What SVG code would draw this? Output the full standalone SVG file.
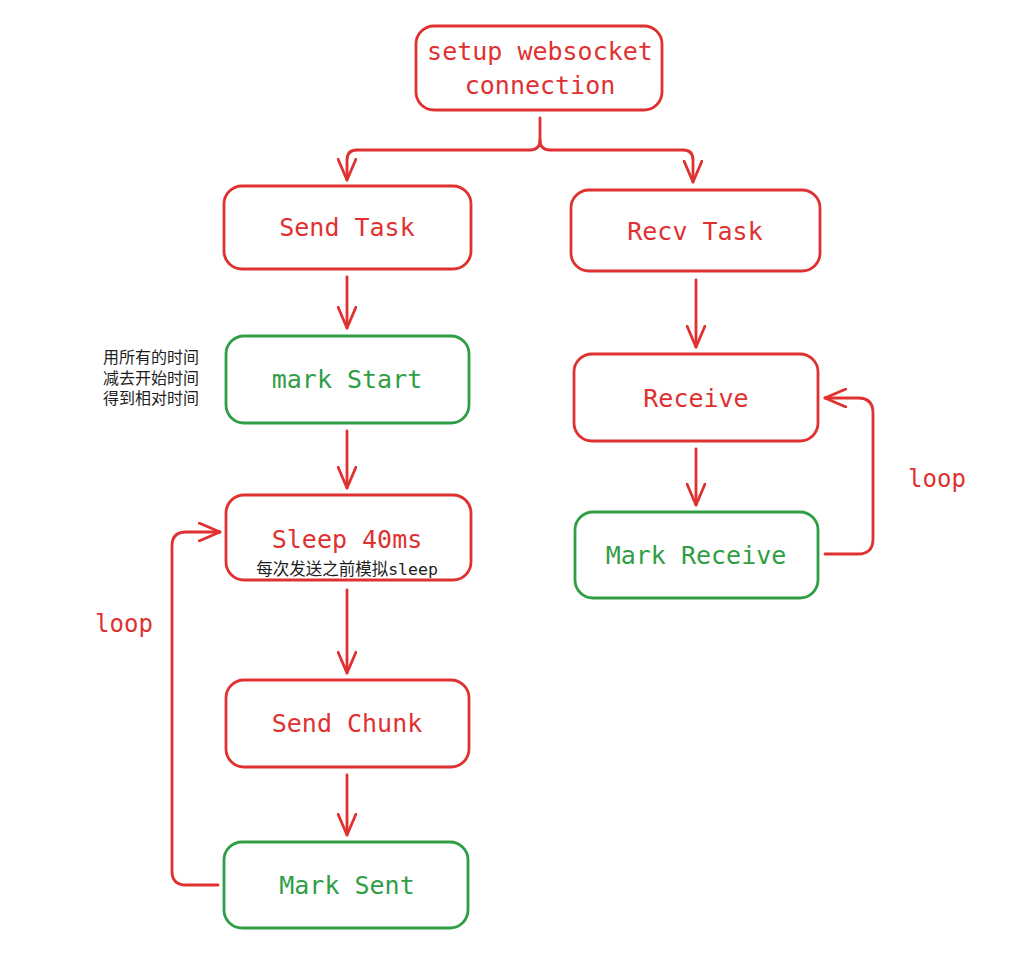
<svg xmlns="http://www.w3.org/2000/svg" width="1016" height="977" viewBox="0 0 1016 977">
<style>
.box{fill:#fff;stroke-width:2.8;stroke-linejoin:round}
.r{stroke:#e03131}
.g{stroke:#2f9e44}
.lbl{font-family:"DejaVu Sans Mono","Liberation Mono",monospace;font-size:25px;text-anchor:middle;dominant-baseline:central}
.tr{fill:#e03131}
.tg{fill:#2f9e44}
.note{font-family:"Liberation Sans","Noto Sans CJK SC",sans-serif;font-size:16px;fill:#1e1e1e;dominant-baseline:central}
.conn path{fill:none;stroke:#e03131;stroke-width:2.8;stroke-linecap:round;stroke-linejoin:round}
</style>
<defs>
<marker id="ah" viewBox="0 0 24 20" refX="22" refY="10" markerWidth="24" markerHeight="20" markerUnits="userSpaceOnUse" orient="auto">
<path d="M1,1 L22,10 L1,19" fill="none" stroke="#e03131" stroke-width="2.8" stroke-linecap="round" stroke-linejoin="round"/>
</marker>
</defs>
<rect width="1016" height="977" fill="#fff"/>
<g class="conn">
<path d="M540,118 L540,140 Q540,150 530,150 L357,150 Q347,150 347,160 L347,180" marker-end="url(#ah)"/>
<path d="M540,140 Q540,150 550,150 L683,150 Q693,150 693,160 L693,182" marker-end="url(#ah)"/>
<path d="M347,277 L347,328" marker-end="url(#ah)"/>
<path d="M347,431 L347,488" marker-end="url(#ah)"/>
<path d="M347,590 L347,673" marker-end="url(#ah)"/>
<path d="M347,775 L347,835" marker-end="url(#ah)"/>
<path d="M218,885 L186,885 Q172,885 172,871 L172,546 Q172,532 186,532 L220,532" marker-end="url(#ah)"/>
<path d="M696,280 L696,347" marker-end="url(#ah)"/>
<path d="M696,449 L696,505" marker-end="url(#ah)"/>
<path d="M825,554 L858,554 Q873,554 873,539 L873,413 Q873,398 858,398 L825,398" marker-end="url(#ah)"/>
</g>
<g id="setup">
<rect class="box r" x="416" y="26" width="246" height="84" rx="18"/>
<text class="lbl tr" x="540" y="51">setup websocket</text>
<text class="lbl tr" x="540" y="85">connection</text>
</g>
<g id="sendTask">
<rect class="box r" x="224" y="186" width="247" height="83" rx="18"/>
<text class="lbl tr" x="347" y="227">Send Task</text>
</g>
<g id="recvTask">
<rect class="box r" x="571" y="190" width="249" height="81" rx="18"/>
<text class="lbl tr" x="695" y="231">Recv Task</text>
</g>
<g id="markStart">
<rect class="box g" x="226" y="336" width="243" height="87" rx="18"/>
<text class="lbl tg" x="347" y="379">mark Start</text>
</g>
<g id="note1">
<text class="note" x="103" y="357">用所有的时间</text>
<text class="note" x="103" y="378">减去开始时间</text>
<text class="note" x="103" y="398">得到相对时间</text>
</g>
<g id="receive">
<rect class="box r" x="574" y="354" width="244" height="87" rx="18"/>
<text class="lbl tr" x="696" y="398">Receive</text>
</g>
<g id="sleep">
<rect class="box r" x="226" y="495" width="245" height="85" rx="18"/>
<text class="lbl tr" x="347" y="539">Sleep 40ms</text>
<text class="note" x="347" y="569" text-anchor="middle" style="font-family:'DejaVu Sans Mono','Noto Sans CJK SC',monospace;font-size:16.5px">每次发送之前模拟sleep</text>
</g>
<g id="markReceive">
<rect class="box g" x="575" y="512" width="243" height="86" rx="18"/>
<text class="lbl tg" x="696" y="555">Mark Receive</text>
</g>
<g id="sendChunk">
<rect class="box r" x="226" y="680" width="243" height="87" rx="18"/>
<text class="lbl tr" x="347" y="723">Send Chunk</text>
</g>
<g id="markSent">
<rect class="box g" x="224" y="842" width="244" height="86" rx="18"/>
<text class="lbl tg" x="347" y="885">Mark Sent</text>
</g>
<g id="loopLeft">
<text class="lbl tr" x="124" y="624" style="font-size:24px">loop</text>
</g>
<g id="loopRight">
<text class="lbl tr" x="937" y="479" style="font-size:24px">loop</text>
</g>
</svg>
